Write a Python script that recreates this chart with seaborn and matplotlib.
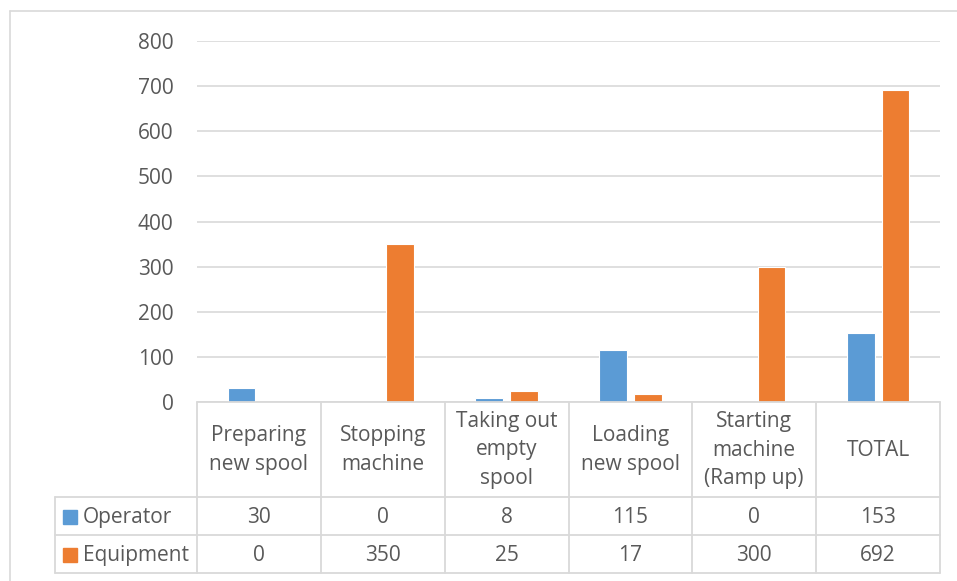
import matplotlib
matplotlib.use("Agg")
import matplotlib.pyplot as plt
import numpy as np
import pandas as pd
import seaborn as sns
from matplotlib.lines import Line2D
from matplotlib.patches import Rectangle

# ---- data -------------------------------------------------------------
categories = ["Preparing\nnew spool", "Stopping\nmachine", "Taking out\nempty\nspool",
              "Loading\nnew spool", "Starting\nmachine\n(Ramp up)", "TOTAL"]
series_names = ["Operator", "Equipment"]
operator = [30, 0, 8, 115, 0, 153]
equipment = [0, 350, 25, 17, 300, 692]
y_ticks = [0, 100, 200, 300, 400, 500, 600, 700, 800]
colors = ["#5B9BD5", "#ED7D31"]

# ---- layout (pixels) --------------------------------------------------
W, H, DPI = 957, 581, 100
TXT = "#595959"
LINE = "#D9D9D9"
FS = 15

sns.set_theme(style="white")
plt.rcParams["font.family"] = ["Open Sans", "DejaVu Sans"]

fig = plt.figure(figsize=(W / DPI, H / DPI), dpi=DPI)
fig.patch.set_facecolor("white")


def fx(px):
    return px / W


def fy(py):
    return 1 - py / H


AX_L, AX_R, AX_T, AX_B = 197, 940, 41, 402
ax = fig.add_axes([fx(AX_L), fy(AX_B), fx(AX_R) - fx(AX_L), fy(AX_T) - fy(AX_B)])

df = pd.DataFrame({
    "category": categories * 2,
    "series": [series_names[0]] * len(categories) + [series_names[1]] * len(categories),
    "value": operator + equipment,
})

sns.barplot(data=df, x="category", y="value", hue="series", order=categories,
            hue_order=series_names, palette=colors, saturation=1, width=0.56, gap=0.2,
            edgecolor="white", linewidth=0.8, errorbar=None, legend=False, ax=ax)

ax.set_xlim(-0.5, len(categories) - 0.5)
ax.set_ylim(0, 800)
ax.set_yticks(y_ticks)
ax.set_yticklabels([str(v) for v in y_ticks])
ax.set_xticks([])
ax.set_xlabel("")
ax.set_ylabel("")
ax.tick_params(axis="y", length=0, pad=17, labelsize=FS, labelcolor=TXT)
ax.yaxis.grid(True, color=LINE, linewidth=1.2)
ax.set_axisbelow(True)
for s in ax.spines.values():
    s.set_visible(False)

# ---- outer chart frame -------------------------------------------------
fig.add_artist(Line2D([fx(10), fx(10)], [fy(11), fy(H + 5)], color=LINE, lw=1.2))
fig.add_artist(Line2D([fx(10), fx(W + 5)], [fy(11), fy(11)], color=LINE, lw=1.2))

# ---- data table beneath the plot --------------------------------------
fig.canvas.draw()
col_px = [ax.transData.transform((i - 0.5, 0))[0] for i in range(len(categories) + 1)]
TAB_L = 55
ROW_Y = [402, 497, 535, 573]


def hline(y, x0, x1):
    fig.add_artist(Line2D([fx(x0), fx(x1)], [fy(y), fy(y)], color=LINE, lw=1.3, zorder=5))


def vline(x, y0, y1):
    fig.add_artist(Line2D([fx(x), fx(x)], [fy(y0), fy(y1)], color=LINE, lw=1.3, zorder=5))


hline(ROW_Y[0], col_px[0], col_px[-1])
for y in ROW_Y[1:]:
    hline(y, TAB_L, col_px[-1])
vline(TAB_L, ROW_Y[1], ROW_Y[3])
for x in col_px:
    vline(x, ROW_Y[0], ROW_Y[3])

centers = [(col_px[i] + col_px[i + 1]) / 2 for i in range(len(categories))]
for cx, lab in zip(centers, categories):
    fig.text(fx(cx), fy((ROW_Y[0] + ROW_Y[1]) / 2 + 0.5), lab, ha="center", va="center",
             fontsize=FS, color=TXT, linespacing=1.45)

for r, (name, vals, col) in enumerate(zip(series_names, [operator, equipment], colors)):
    yc = (ROW_Y[r + 1] + ROW_Y[r + 2]) / 2 + 1.5
    fig.add_artist(Rectangle((fx(63), fy(yc + 6)), fx(14), 14 / H, color=col, zorder=6))
    fig.text(fx(83), fy(yc), name, ha="left", va="center", fontsize=FS, color=TXT)
    for cx, v in zip(centers, vals):
        fig.text(fx(cx), fy(yc), str(v), ha="center", va="center", fontsize=FS, color=TXT)

fig.savefig("out.png", dpi=DPI, facecolor="white")
